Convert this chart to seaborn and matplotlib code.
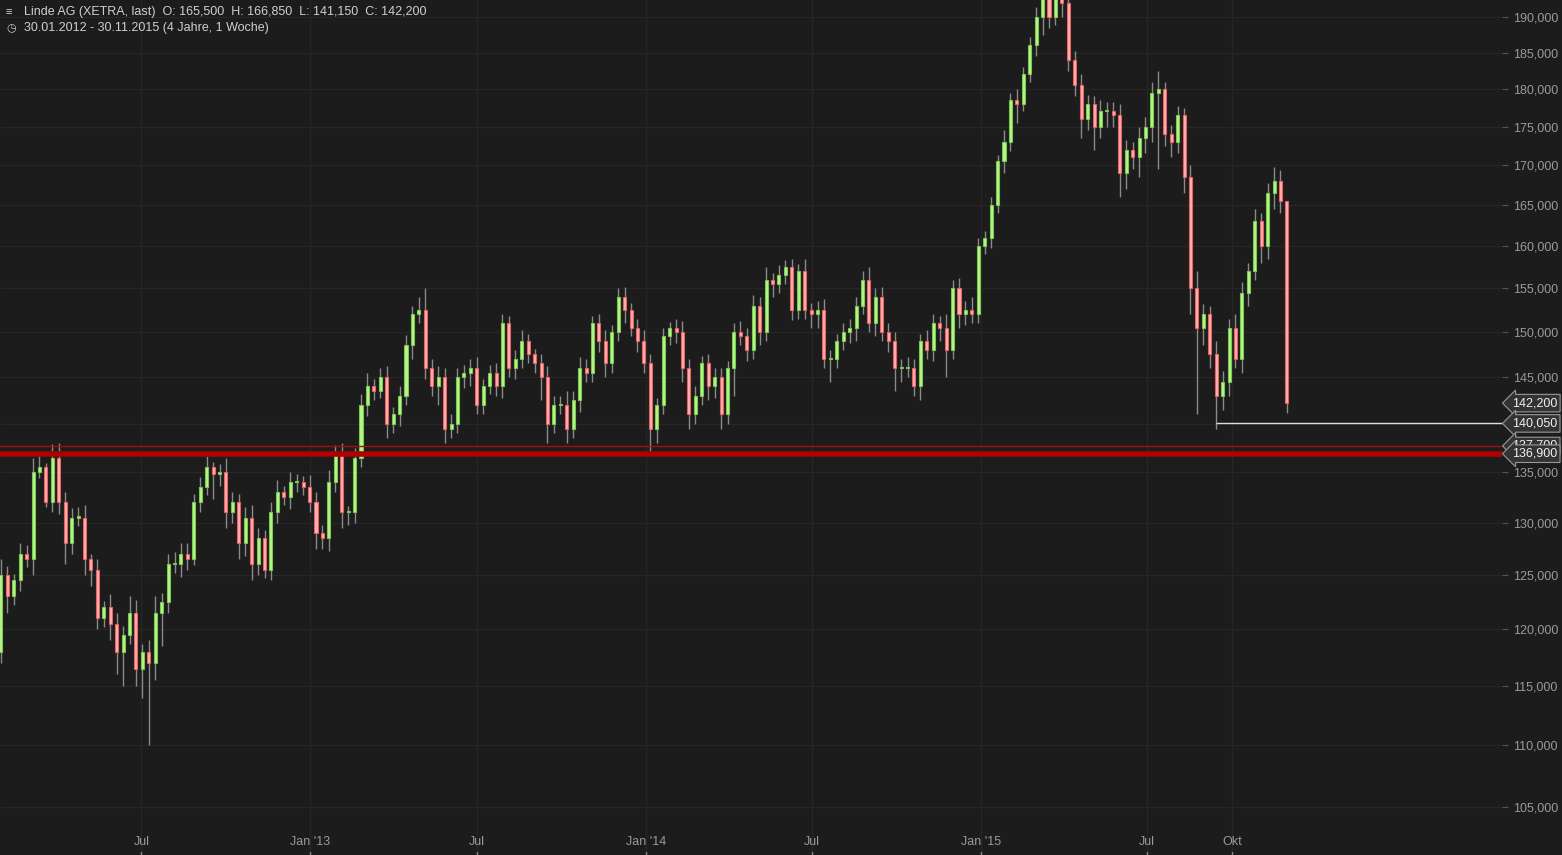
import numpy as np
import pandas as pd
import matplotlib
matplotlib.use("Agg")
import matplotlib.pyplot as plt
import matplotlib.dates as mdates
import seaborn as sns
from matplotlib.ticker import FixedLocator, NullLocator

closes = [125,123,124.5,127,126.5,135,135.5,132,136.5,132,
          128,130.5,130.5,126.5,125.5,121,122,120.5,118,119.5,
          121.5,116.5,118,117,121.5,122.5,126,126,127,126.5,
          132,133.5,135.5,134.8,135,131,132,128,130.5,126,
          128.5,125.5,131,133,132.5,134,134,133.5,132,129,128.5,
          134,137,131,131,136.5,142,144,143.5,145,140,
          141,143,148.5,152,152.5,146,144,145,139.5,140,
          145,145.5,146,142,144,145.5,144,151,146,147,
          149,147.5,146.5,145,140,142,142,139.5,142.5,146,
          145.5,151,149,146.5,150,154,152.5,150.5,149,146.5,
          139.5,142,149.5,150.5,150,146,141,143,146.5,144,145,
          141,146,150,149.5,148,153,150,156,155.5,156.5,
          157.5,152.5,157,152.5,152,152.5,147,147,149,150,
          150.5,153,156,151,154,150,149,146,146,146,
          144,149,148,151,150.5,148,155,152,152.5,152,
          160,161,165,170.5,173,178.5,178,182,186,190,193,
          190,193,192,184,180.5,176,178,175,177,177,
          176.5,169,172,171,173.5,175,179.5,180,174,173,
          176.5,168.5,155,150.5,152,147.5,143,144.5,150.5,147,
          154.5,157,163,160,166.5,168,165.5,142.2]
up_wick = [1.5,0.8,0.6,1.0,0.8,1.5,1.2,0.5,1.4,1.5,
           1.0,0.9,1.0,1.2,0.5,1.0,0.6,1.2,1.0,0.8,
           1.5,1.2,0.7,1.0,1.5,0.8,1.0,1.2,1.0,1.0,
           0.8,1.0,1.2,0.6,0.8,1.5,1.0,0.8,1.0,1.2,
           1.0,0.8,1.0,1.2,0.6,1.0,0.8,0.6,1.2,1.0,0.8,
           1.2,0.8,1.0,0.6,1.0,1.2,1.5,0.8,1.0,1.2,
           0.8,1.0,1.2,1.0,1.5,2.5,1.0,1.2,1.0,1.0,
           1.0,0.8,1.0,1.2,0.8,0.8,1.0,1.0,0.8,1.0,
           1.2,0.8,0.6,1.0,1.2,1.0,1.0,1.5,1.0,1.2,
           1.0,0.8,1.0,1.2,0.8,1.0,1.2,0.8,1.0,1.2,
           1.0,0.8,1.0,0.6,1.0,1.2,1.0,1.0,0.8,1.0,1.0,
           1.0,0.8,1.0,1.2,1.0,1.2,1.0,1.5,0.8,1.2,
           0.8,1.0,0.8,1.5,0.8,1.0,1.2,1.0,0.8,1.0,
           1.0,1.0,1.0,1.5,1.0,1.2,1.0,1.0,1.0,1.2,
           1.0,0.8,1.2,1.0,0.8,1.5,1.0,1.2,1.0,1.5,
           1.0,0.8,1.0,0.8,1.5,1.0,1.5,1.0,1.2,1.5,1.0,
           1.5,1.0,1.2,1.5,1.2,1.5,1.2,1.0,1.5,1.2,
           1.2,1.5,1.2,1.0,1.5,1.2,1.5,2.5,1.0,1.2,
           1.2,1.0,1.5,2.0,1.2,1.0,1.5,1.2,1.0,1.5,
           1.2,1.0,1.5,1.0,1.2,1.8,1.35,0.0]
down_wick = [1.0,1.5,0.8,1.0,0.8,1.5,0.6,0.5,1.0,1.2,
             2.0,1.0,0.8,1.5,1.5,1.0,0.8,1.5,2.0,3.0,
             0.8,1.5,2.5,7.0,1.5,3.0,1.0,0.8,1.2,1.0,
             0.6,1.0,0.8,2.5,1.2,1.5,1.0,1.5,1.2,1.5,
             1.0,0.8,1.0,1.0,0.8,1.2,1.0,0.8,1.0,1.5,1.0,
             1.2,1.0,1.5,1.2,1.0,1.0,1.2,1.0,0.8,1.5,
             1.0,1.2,1.0,1.5,1.0,1.2,1.0,2.0,1.5,1.0,
             1.0,1.2,1.5,1.0,1.0,0.8,1.0,1.2,1.0,1.2,
             1.0,1.0,1.0,2.5,2.0,1.0,1.0,1.5,1.0,1.2,
             1.0,1.0,1.2,1.5,1.0,1.0,1.5,1.0,1.2,1.0,
             2.5,1.5,1.0,1.0,1.2,1.5,1.5,1.0,1.0,1.5,1.2,
             1.5,1.0,3.0,1.0,1.2,1.0,1.5,1.0,1.5,1.0,
             1.0,1.2,1.0,1.0,1.5,1.5,1.0,2.5,1.0,1.0,
             1.2,1.5,1.0,1.0,1.5,1.0,1.2,2.5,1.5,1.0,
             1.0,1.5,1.0,1.2,1.5,3.0,1.0,1.5,1.2,1.0,
             1.0,1.0,1.2,1.0,1.5,1.2,2.5,1.0,1.0,1.5,2.5,
             1.5,1.2,2.0,1.5,1.5,2.5,1.5,3.0,1.5,2.0,
             1.5,3.0,2.0,1.5,2.5,2.0,2.0,10.0,1.5,2.0,
             1.5,2.0,3.0,9.5,2.0,1.5,3.5,1.5,1.5,1.0,
             1.5,1.5,1.0,2.0,1.5,2.0,1.5,1.05]
first_open = 118.0

title_line = "Linde AG (XETRA, last)  O: 165,500  H: 166,850  L: 141,150  C: 142,200"
range_line = "30.01.2012 - 30.11.2015 (4 Jahre, 1 Woche)"
y_ticks = list(range(105000, 195000, 5000))
x_tick_dates = ["2012-07-01", "2013-01-01", "2013-07-01", "2014-01-01",
                "2014-07-01", "2015-01-01", "2015-07-01", "2015-10-01"]
x_tick_labels = ["Jul", "Jan '13", "Jul", "Jan '14", "Jul", "Jan '15", "Jul", "Okt"]
tag_values = [142200, 140050, 137700, 136900]

sns.set_style("dark")
plt.rcParams['font.family'] = ['Liberation Sans', 'DejaVu Sans']

c = np.array(closes) * 1000
o = np.concatenate([[first_open * 1000], c[:-1]])
o[-1] = 165500
hi = np.maximum(o, c) + np.array(up_wick) * 1000
lo = np.minimum(o, c) - np.array(down_wick) * 1000
dates = pd.date_range("2012-01-30", periods=len(c), freq="7D")
df = pd.DataFrame({"date": dates, "o": o, "c": c, "hi": hi, "lo": lo})
xn = mdates.date2num(df["date"])

bg = "#1c1c1c"
fig = plt.figure(figsize=(15.62, 8.55), dpi=100, facecolor=bg)
ax = fig.add_axes([0, 0, 1502 / 1562, 1])
ax.set_facecolor(bg)
ax.set_yscale("log")
ax.set_ylim(101300, 192440)
x0 = xn[0] - 1.0
px_per_day = 6.43 / 7
ax.set_xlim(x0, x0 + 1502 / px_per_day)

for t in y_ticks:
    ax.axhline(t, color="#262626", lw=1, zorder=0)
for d in x_tick_dates:
    ax.axvline(mdates.datestr2num(d), color="#262626", lw=1, zorder=0)

up = df["c"] >= df["o"]
ax.vlines(xn, df["lo"], df["hi"], color="#8a8a8a", lw=1, zorder=2)
body_lo = np.minimum(df["o"], df["c"])
body_h = np.maximum(np.abs(df["c"] - df["o"]), 150)
ax.bar(xn[up], body_h[up], bottom=body_lo[up], width=3.3, color="#b8f58c",
       edgecolor="#78c850", lw=0.8, zorder=3)
ax.bar(xn[~up], body_h[~up], bottom=body_lo[~up], width=3.3, color="#ffb0b0",
       edgecolor="#e86060", lw=0.8, zorder=3)

ax.axhline(136900, color="#b00000", lw=4, zorder=4)
ax.axhline(137700, color="#a01010", lw=1, zorder=4)
ax.hlines(140050, mdates.datestr2num("2015-09-14"), ax.get_xlim()[1], color="#dddddd", lw=1, zorder=4)

ax.yaxis.tick_right()
ax.yaxis.set_major_locator(FixedLocator(y_ticks))
ax.yaxis.set_minor_locator(NullLocator())
ax.set_yticklabels([f"{t:,}" for t in y_ticks], color="#9a9a9a", fontsize=9)
ax.tick_params(axis="y", length=4, color="#555555", pad=4, right=True)
ax.set_xticks([])
for d, lab in zip(x_tick_dates, x_tick_labels):
    xv = mdates.datestr2num(d)
    ax.text(xv, 0.015, lab, transform=ax.get_xaxis_transform(), ha="center",
            va="center", color="#9a9a9a", fontsize=9)
    ax.plot([xv, xv], [0, 0.004], transform=ax.get_xaxis_transform(), color="#888", lw=1)

for v in tag_values:
    ax.annotate(f"{v:,}", xy=(1.0, v), xycoords=("axes fraction", "data"),
                xytext=(1512, 0), textcoords=("figure pixels", "offset points"),
                ha="left", va="center", color="#f0f0f0", fontsize=9, zorder=6,
                bbox=dict(boxstyle="larrow,pad=0.22", fc="#333333", ec="#999999", lw=0.8),
                annotation_clip=False)

for s in ax.spines.values():
    s.set_visible(False)

fig.text(24 / 1562, 1 - 12 / 855, title_line, color="#cfcfcf", fontsize=9, va="center")
fig.text(24 / 1562, 1 - 28 / 855, range_line, color="#cfcfcf", fontsize=9, va="center")
fig.text(6 / 1562, 1 - 12 / 855, "\u2261", color="#cfcfcf", fontsize=8, va="center")
fig.text(6 / 1562, 1 - 28 / 855, "\u25f7", color="#cfcfcf", fontsize=8, va="center")

fig.savefig("out.png", dpi=100, facecolor=bg)
